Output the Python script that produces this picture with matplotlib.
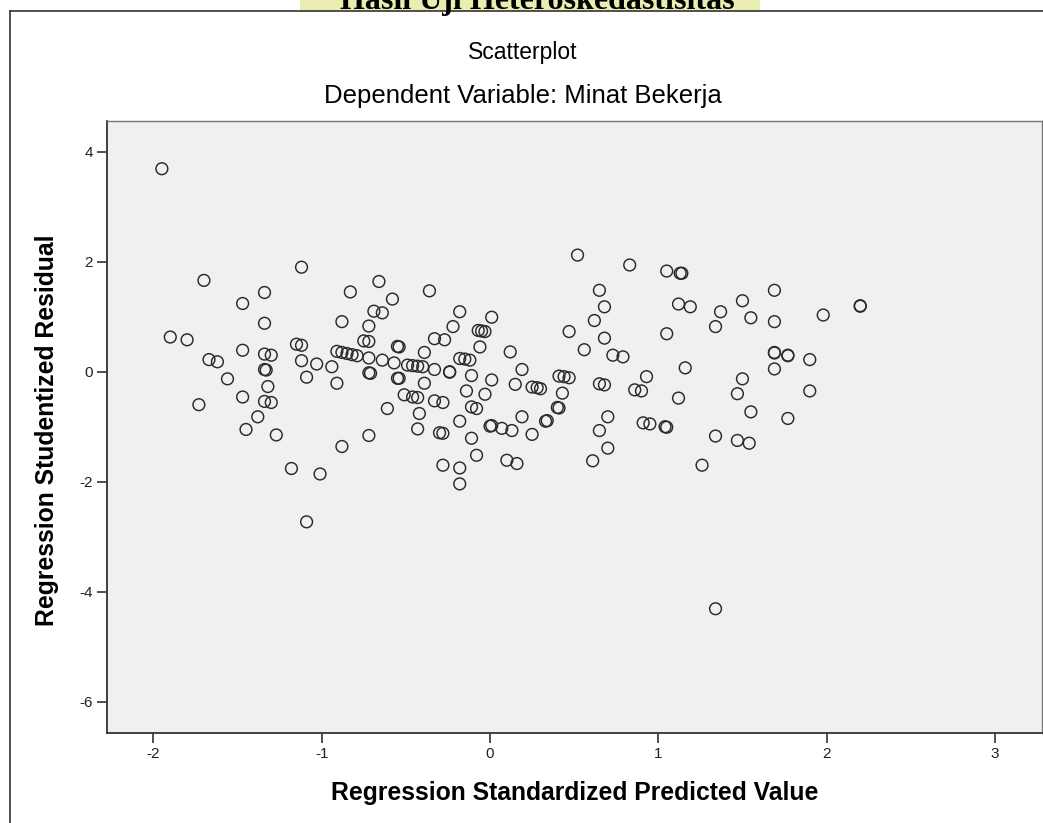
import matplotlib
matplotlib.use("Agg")
from matplotlib import pyplot as plt
from matplotlib.lines import Line2D
from matplotlib.patches import Rectangle

plt.rcParams["axes.unicode_minus"] = False

# values
pred_value = [
    -1.95, -1.90, -1.80, -1.73, -1.70, -1.67, -1.62, -1.56, -1.47, -1.47,
    -1.47, -1.45, -1.38, -1.34, -1.34, -1.34, -1.30, -1.34, -1.33, -1.32,
    -1.34, -1.30, -1.27, -1.18, -1.15, -1.12, -1.12, -1.12, -1.09, -1.09,
    -1.03, -1.01, -0.94, -0.91, -0.88, -0.85, -0.82, -0.79, -0.91, -0.88,
    -0.88, -0.83, -0.75, -0.72, -0.72, -0.72, -0.72, -0.71, -0.72, -0.69,
    -0.66, -0.64, -0.64, -0.61, -0.58, -0.57, -0.54, -0.55, -0.54, -0.55,
    -0.51, -0.49, -0.46, -0.43, -0.40, -0.46, -0.43, -0.43, -0.42, -0.39,
    -0.39, -0.36, -0.33, -0.27, -0.33, -0.33, -0.28, -0.30, -0.28, -0.28,
    -0.24, -0.24, -0.22, -0.18, -0.18, -0.15, -0.12, -0.18, -0.18, -0.18,
    -0.14, -0.11, -0.11, -0.08, -0.11, -0.08, -0.07, -0.05, -0.03, -0.06,
    -0.03, 0.01, 0.01, 0.00, 0.01, 0.07, 0.10, 0.12, 0.13, 0.15,
    0.16, 0.19, 0.19, 0.25, 0.28, 0.30, 0.25, 0.33, 0.34, 0.40,
    0.41, 0.41, 0.44, 0.47, 0.43, 0.47, 0.52, 0.56, 0.61, 0.62,
    0.65, 0.65, 0.68, 0.65, 0.68, 0.68, 0.70, 0.70, 0.73, 0.79,
    0.83, 0.86, 0.90, 0.91, 0.95, 0.93, 1.05, 1.05, 1.05, 1.04,
    1.12, 1.12, 1.13, 1.14, 1.16, 1.19, 1.26, 1.34, 1.34, 1.34,
    1.37, 1.47, 1.47, 1.50, 1.50, 1.54, 1.55, 1.55, 1.69, 1.69,
    1.69, 1.69, 1.69, 1.77, 1.77, 1.77, 1.90, 1.90, 1.98, 2.20,
    2.20,
]
resid_value = [
    3.69, 0.63, 0.58, -0.60, 1.66, 0.22, 0.18, -0.13, 1.24, 0.39,
    -0.46, -1.05, -0.82, 1.44, 0.88, 0.32, 0.30, 0.04, 0.03, -0.27,
    -0.54, -0.56, -1.15, -1.76, 0.50, 0.48, 1.90, 0.20, -0.10, -2.73,
    0.14, -1.86, 0.09, 0.37, 0.35, 0.33, 0.31, 0.29, -0.21, 0.91,
    -1.36, 1.45, 0.56, 0.55, 0.83, 0.25, -0.02, -0.03, -1.16, 1.10,
    1.64, 1.07, 0.21, -0.67, 1.32, 0.16, 0.45, 0.46, -0.12, -0.12,
    -0.42, 0.12, 0.11, 0.10, 0.09, -0.46, -0.47, -1.04, -0.76, 0.35,
    -0.21, 1.47, 0.60, 0.58, 0.04, -0.53, -0.56, -1.11, -1.12, -1.70,
    -0.01, 0.00, 0.82, 1.09, 0.24, 0.23, 0.21, -0.90, -1.75, -2.04,
    -0.35, -0.07, -0.64, -0.67, -1.21, -1.52, 0.75, 0.74, 0.73, 0.45,
    -0.41, 0.99, -0.15, -0.99, -0.98, -1.03, -1.61, 0.36, -1.07, -0.23,
    -1.67, 0.04, -0.82, -0.28, -0.29, -0.31, -1.14, -0.90, -0.89, -0.65,
    -0.66, -0.08, -0.09, -0.11, -0.39, 0.73, 2.12, 0.40, -1.62, 0.93,
    1.48, -0.22, -0.24, -1.07, 1.18, 0.61, -0.82, -1.39, 0.30, 0.27,
    1.94, -0.33, -0.35, -0.93, -0.95, -0.09, 1.83, 0.69, -1.01, -1.00,
    1.23, -0.48, 1.79, 1.79, 0.07, 1.18, -1.70, 0.82, -1.17, -4.31,
    1.09, -0.40, -1.25, 1.29, -0.13, -1.30, 0.98, -0.73, 1.48, 0.91,
    0.34, 0.35, 0.05, 0.29, 0.30, -0.85, 0.22, -0.35, 1.03, 1.19,
    1.20,
]
x_ticks = [-2, -1, 0, 1, 2, 3]
y_ticks = [4, 2, 0, -2, -4, -6]

W, H = 1043, 823
fig = plt.figure(figsize=(W / 100, H / 100), dpi=100)
fig.patch.set_facecolor("white")

# page strip above the chart box (watermark tint + cut heading)
fig.patches.append(Rectangle((300 / W, 1 - 11 / H), 460 / W, 11 / H, transform=fig.transFigure,
                             facecolor="#e9edb0", edgecolor="none", zorder=-1))
fig.text(537 / W, 1 - 9 / H, "Hasil Uji Heteroskedastisitas", ha="center", va="baseline",
         fontsize=23, fontweight="bold", family="Liberation Serif", color="black")

# chart box border (left + top, rest runs off the picture)
fig.lines.append(Line2D([10 / W, 10 / W], [0, 1 - 11 / H], transform=fig.transFigure, color="#333333", lw=1.2))
fig.lines.append(Line2D([10 / W, 1], [1 - 11 / H, 1 - 11 / H], transform=fig.transFigure, color="#333333", lw=1.2))

ax = fig.add_axes([107 / W, 1 - 733 / H, (1042 - 107) / W, (733 - 121) / H])
ax.set_facecolor("#f0f0f0")
ax.scatter(pred_value, resid_value, s=72, facecolors="none", edgecolors="#2a2a2a", linewidths=1.05)

ax.set_xlim(-2.276, 3.28)
ax.set_ylim(-6.569, 4.558)
ax.set_xticks(x_ticks)
ax.set_yticks(y_ticks)
ax.tick_params(direction="out", length=7, width=1.2, colors="#333333", labelsize=11, labelcolor="#222222", pad=3)
for side in ["left", "bottom"]:
    ax.spines[side].set_color("#333333")
    ax.spines[side].set_linewidth(1.3)
for side in ["top", "right"]:
    ax.spines[side].set_color("#777777")
    ax.spines[side].set_linewidth(1.0)
for lab in ax.get_xticklabels() + ax.get_yticklabels():
    lab.set_family("Liberation Sans")

fig.text(523 / W, 1 - 53 / H, "Scatterplot", ha="center", va="center",
         fontsize=16.5, family="Liberation Sans", color="black")
fig.text(523 / W, 1 - 96 / H, "Dependent Variable: Minat Bekerja", ha="center", va="center",
         fontsize=18.5, family="Liberation Sans", color="black")
fig.text(575 / W, 1 - 793 / H, "Regression Standardized Predicted Value", ha="center", va="center",
         fontsize=17.8, fontweight="bold", family="Liberation Sans", color="black")
fig.text(47 / W, 1 - 430 / H, "Regression Studentized Residual", ha="center", va="center", rotation=90,
         fontsize=17.8, fontweight="bold", family="Liberation Sans", color="black")

fig.savefig("out.png", dpi=100)
